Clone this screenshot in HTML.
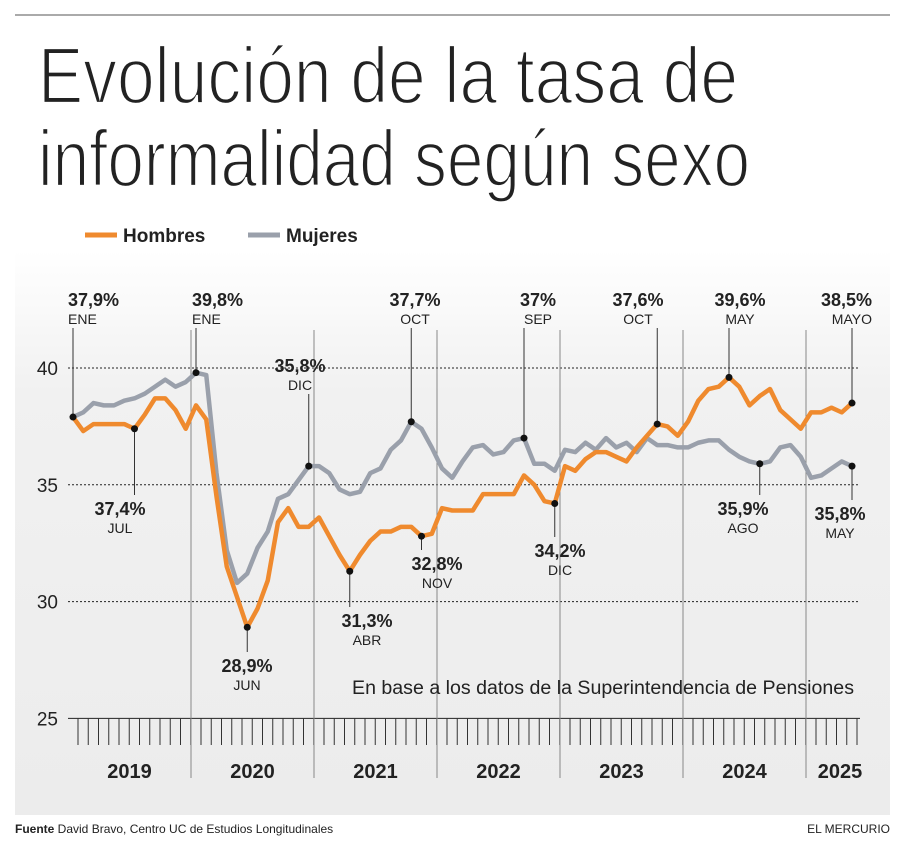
<!DOCTYPE html>
<html><head><meta charset="utf-8"><style>
html,body{margin:0;padding:0;background:#fff;}
svg{display:block;font-family:"Liberation Sans Narrow","Liberation Sans",sans-serif;}
</style></head><body>
<svg id="c" width="908" height="846" viewBox="0 0 908 846">
<defs><linearGradient id="bg" x1="0" y1="0" x2="0" y2="1"><stop offset="0" stop-color="#fff"/><stop offset="0.25" stop-color="#f1f1f1"/><stop offset="1" stop-color="#ececec"/></linearGradient></defs>
<line x1="15" y1="15" x2="890" y2="15" stroke="#555" stroke-width="1"/>
<text x="38" y="103" font-size="80" textLength="700" lengthAdjust="spacingAndGlyphs" fill="#222" stroke="#fff" stroke-width="2.2">Evolución de la tasa de</text>
<text x="38" y="186" font-size="80" textLength="712" lengthAdjust="spacingAndGlyphs" fill="#222" stroke="#fff" stroke-width="2.2">informalidad según sexo</text>
<rect x="15" y="250" width="875" height="565" fill="url(#bg)"/>
<g>
<line x1="85" y1="235" x2="117" y2="235" stroke="#ef8a2e" stroke-width="5"/>
<text x="123" y="242" font-size="19" font-weight="bold" fill="#222">Hombres</text>
<line x1="248" y1="235" x2="280" y2="235" stroke="#9aa0ab" stroke-width="5"/>
<text x="286" y="242" font-size="19" font-weight="bold" fill="#222">Mujeres</text>
</g>
<g id="grid"></g><g id="series"></g><g id="ann"></g>
<text x="352" y="694" font-size="19" fill="#222" textLength="502" lengthAdjust="spacingAndGlyphs">En base a los datos de la Superintendencia de Pensiones</text>
<text x="15" y="833" font-size="12" fill="#222"><tspan font-weight="bold">Fuente</tspan>  David Bravo, Centro UC de Estudios Longitudinales</text>
<text x="890" y="833" font-size="12" fill="#222" text-anchor="end">EL MERCURIO</text>
</svg>
<script>
const yTicks=[40,35,30,25];
const years=["2019","2020","2021","2022","2023","2024","2025"];
const hombres=[37.9,37.3,37.6,37.6,37.6,37.6,37.4,38.0,38.7,38.7,38.2,37.4,
38.4,37.8,34.5,31.5,30.2,28.9,29.7,30.9,33.4,34.0,33.2,33.2,
33.6,32.8,32.0,31.3,32.0,32.6,33.0,33.0,33.2,33.2,32.8,32.9,
34.0,33.9,33.9,33.9,34.6,34.6,34.6,34.6,35.4,35.0,34.3,34.2,
35.8,35.6,36.1,36.4,36.4,36.2,36.0,36.6,37.1,37.6,37.5,37.1,
37.7,38.6,39.1,39.2,39.6,39.2,38.4,38.8,39.1,38.2,37.8,37.4,
38.1,38.1,38.3,38.1,38.5];
const mujeres=[37.9,38.1,38.5,38.4,38.4,38.6,38.7,38.9,39.2,39.5,39.2,39.4,
39.8,39.7,35.5,32.2,30.8,31.2,32.3,33.0,34.4,34.6,35.2,35.8,
35.8,35.5,34.8,34.6,34.7,35.5,35.7,36.5,36.9,37.7,37.4,36.6,
35.7,35.3,36.0,36.6,36.7,36.3,36.4,36.9,37.0,35.9,35.9,35.6,
36.5,36.4,36.8,36.5,37.0,36.6,36.8,36.4,37.0,36.7,36.7,36.6,
36.6,36.8,36.9,36.9,36.5,36.2,36.0,35.9,36.0,36.6,36.7,36.2,
35.3,35.4,35.7,36.0,35.8];
const annots=[
["m",0,"37,9%","ENE",68,306,"start",1],["m",12,"39,8%","ENE",192,306,"start",1],
["m",23,"35,8%","DIC",300,372,"middle",1],["m",33,"37,7%","OCT",415,306,"middle",1],
["m",44,"37%","SEP",538,306,"middle",1],["h",57,"37,6%","OCT",638,306,"middle",1],
["h",64,"39,6%","MAY",740,306,"middle",1],["h",76,"38,5%","MAYO",872,306,"end",1],
["h",6,"37,4%","JUL",120,515,"middle",0],["h",17,"28,9%","JUN",247,672,"middle",0],
["h",27,"31,3%","ABR",367,627,"middle",0],["h",34,"32,8%","NOV",437,570,"middle",0],
["h",47,"34,2%","DIC",560,557,"middle",0],["m",67,"35,9%","AGO",743,515,"middle",0],
["m",76,"35,8%","MAY",840,520,"middle",0]];
const NS="http://www.w3.org/2000/svg";
const X=i=>73+10.25*i, Y=v=>368+(40-v)*23.36;
function mk(p,t,a){const e=document.createElementNS(NS,t);for(const k in a)e.setAttribute(k,a[k]);p.appendChild(e);return e;}
const g=document.getElementById('grid');
yTicks.forEach(v=>{
 const l=mk(g,'line',{x1:68,x2:860,y1:Y(v),y2:Y(v),stroke:'#222','stroke-width':1,'stroke-dasharray':v===25?'':'2,2'});
 
 
 const t=mk(g,'text',{x:58,y:Y(v)+7,'font-size':19,'text-anchor':'end',fill:'#222'});t.textContent=v;
 
 
});
for(let i=0;i<hombres.length;i++){
 const l=mk(g,'line',{x1:X(i)+5,x2:X(i)+5,y1:718,y2:745,stroke:'#333','stroke-width':1});
 
 
}
years.forEach((y,k)=>{
 const x0=X(k*12)-5, x1=Math.min(X(k*12+12)-5,858);
 if(k>0){const d=mk(g,'line',{x1:x0,x2:x0,y1:330,y2:778,stroke:'#888','stroke-width':1});
 
 }
 const t=mk(g,'text',{x:(x0+x1)/2+(k===6?8:0),y:778,'font-size':20,'font-weight':'bold','text-anchor':'middle',fill:'#222'});t.textContent=y;
 
 
});
const s=document.getElementById('series');
[[mujeres,'#9aa0ab','mujeres-line'],[hombres,'#ef8a2e','hombres-line']].forEach(([d,c,n])=>{
 const p=mk(s,'polyline',{points:d.map((v,i)=>X(i)+','+Y(v)).join(' '),fill:'none',stroke:c,'stroke-width':4.5,'stroke-linejoin':'round'});
 
 
});
const a=document.getElementById('ann');
annots.forEach(([sr,i,v,m,lx,ly,anc,up])=>{
 const val=(sr==='h'?hombres:mujeres)[i], px=X(i), py=Y(val);
 const y1=up?ly+22:ly-20, ln=mk(a,'line',{x1:px,x2:px,y1:y1,y2:py,stroke:'#333','stroke-width':1});
 
 
 const c=mk(a,'circle',{cx:px,cy:py,r:3.5,fill:'#111'});
 
 
 const t1=mk(a,'text',{x:lx,y:ly,'font-size':18,'font-weight':'bold','text-anchor':anc,fill:'#222'});t1.textContent=v;
 
 
 const t2=mk(a,'text',{x:lx,y:ly+18,'font-size':14,'text-anchor':anc,fill:'#222'});t2.textContent=m;
 
 
});
</script>
</body></html>
